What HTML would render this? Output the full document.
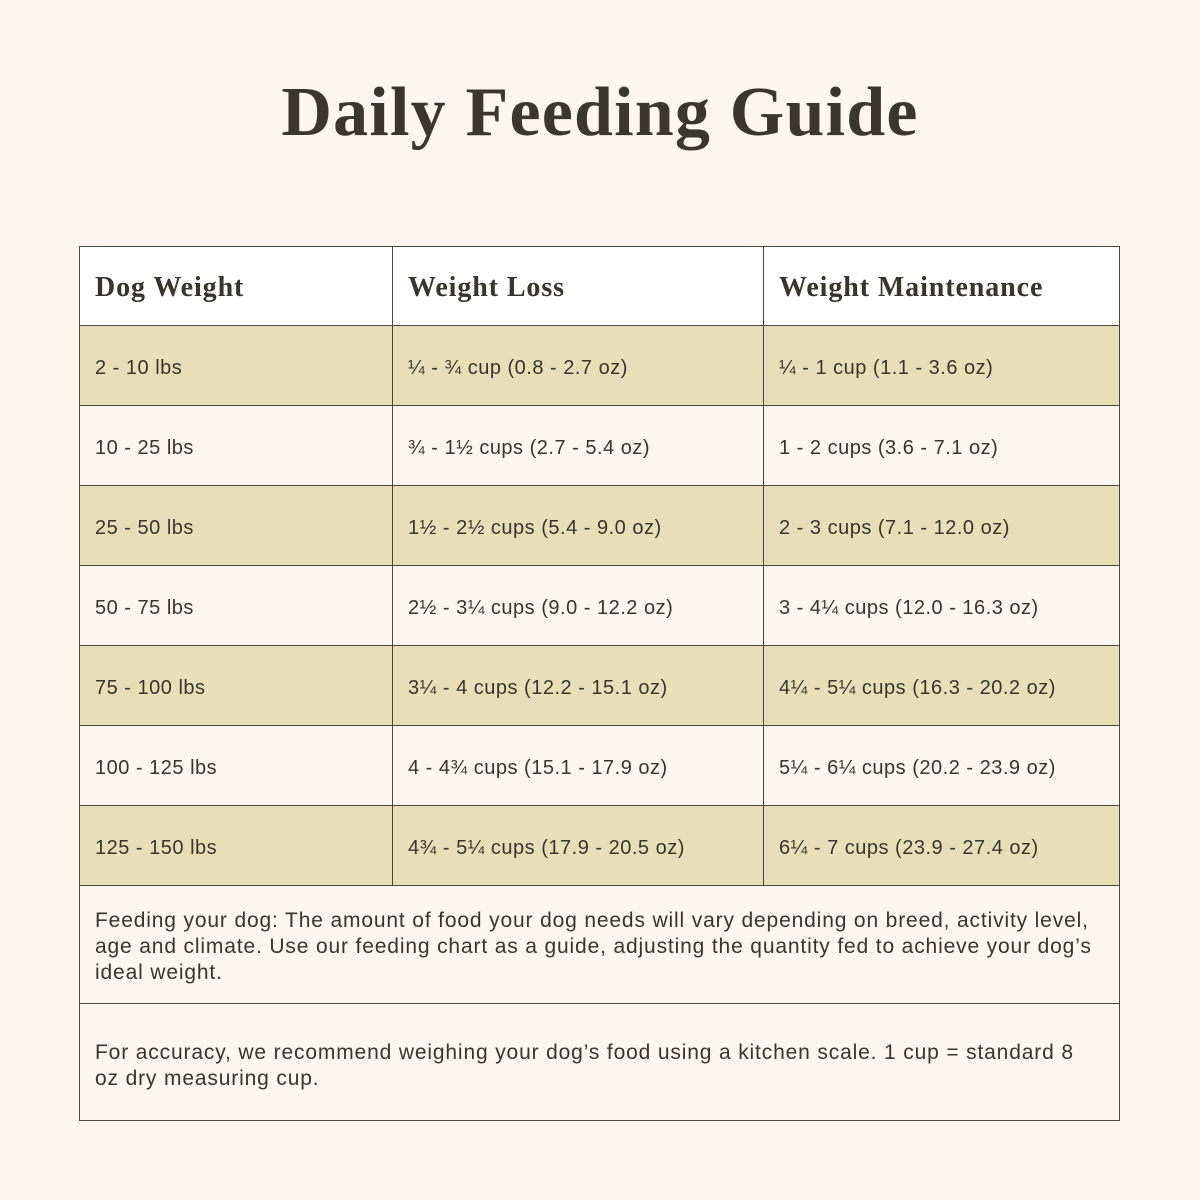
<!DOCTYPE html>
<html><head><style>
body{margin:0;width:1200px;height:1200px;background:#fdf5ef;position:relative;overflow:hidden;font-family:"Liberation Sans",sans-serif;color:#38352f}
h1{position:absolute;top:73px;left:0;width:1200px;text-align:center;margin:0;font-family:"Liberation Serif",serif;font-weight:bold;font-size:70px;line-height:80px;color:#3a3731;letter-spacing:1.2px}
.r{position:absolute;left:79px;width:1041px;border:1px solid #4a4640;box-sizing:border-box;border-top:none}
.c{position:absolute;top:0;bottom:0;display:flex;align-items:center;font-size:20px;box-sizing:border-box;padding-left:15px;padding-top:6px;letter-spacing:0.5px}
.c1{left:0;width:313px;border-right:1px solid #4a4640}
.c2{left:313px;width:371px;border-right:1px solid #4a4640}
.c3{left:684px;width:356px}
.hd .c{font-family:"Liberation Serif",serif;font-weight:bold;font-size:28px;letter-spacing:0.9px;padding-top:4px}
.y{background:#e8dfb8}
.n{padding:0 8px 0 15px;font-size:21px;line-height:26px;position:absolute;left:0;right:0;letter-spacing:0.85px}
</style></head><body>
<h1>Daily Feeding Guide</h1>
<div class="r hd" style="top:246px;height:80px;background:#fff;border-top:1px solid #4a4640"><div class="c c1">Dog Weight</div><div class="c c2">Weight Loss</div><div class="c c3">Weight Maintenance</div></div>
<div class="r y" style="top:326px;height:80px"><div class="c c1">2 - 10 lbs</div><div class="c c2">¼ - ¾ cup (0.8 - 2.7 oz)</div><div class="c c3">¼ - 1 cup (1.1 - 3.6 oz)</div></div>
<div class="r" style="top:406px;height:80px"><div class="c c1">10 - 25 lbs</div><div class="c c2">¾ - 1½ cups (2.7 - 5.4 oz)</div><div class="c c3">1 - 2 cups (3.6 - 7.1 oz)</div></div>
<div class="r y" style="top:486px;height:80px"><div class="c c1">25 - 50 lbs</div><div class="c c2">1½ - 2½ cups (5.4 - 9.0 oz)</div><div class="c c3">2 - 3 cups (7.1 - 12.0 oz)</div></div>
<div class="r" style="top:566px;height:80px"><div class="c c1">50 - 75 lbs</div><div class="c c2">2½ - 3¼ cups (9.0 - 12.2 oz)</div><div class="c c3">3 - 4¼ cups (12.0 - 16.3 oz)</div></div>
<div class="r y" style="top:646px;height:80px"><div class="c c1">75 - 100 lbs</div><div class="c c2">3¼ - 4 cups (12.2 - 15.1 oz)</div><div class="c c3">4¼ - 5¼ cups (16.3 - 20.2 oz)</div></div>
<div class="r" style="top:726px;height:80px"><div class="c c1">100 - 125 lbs</div><div class="c c2">4 - 4¾ cups (15.1 - 17.9 oz)</div><div class="c c3">5¼ - 6¼ cups (20.2 - 23.9 oz)</div></div>
<div class="r y" style="top:806px;height:80px"><div class="c c1">125 - 150 lbs</div><div class="c c2">4¾ - 5¼ cups (17.9 - 20.5 oz)</div><div class="c c3">6¼ - 7 cups (23.9 - 27.4 oz)</div></div>
<div class="r" style="top:886px;height:118px"><div class="n" style="top:22px">Feeding your dog: The amount of food your dog needs will vary depending on breed, activity level, age and climate. Use our feeding chart as a guide, adjusting the quantity fed to achieve your dog’s ideal weight.</div></div>
<div class="r" style="top:1004px;height:117px"><div class="n" style="top:36px">For accuracy, we recommend weighing your dog’s food using a kitchen scale. 1 cup = standard 8<br>oz dry measuring cup.</div></div>
</body></html>
